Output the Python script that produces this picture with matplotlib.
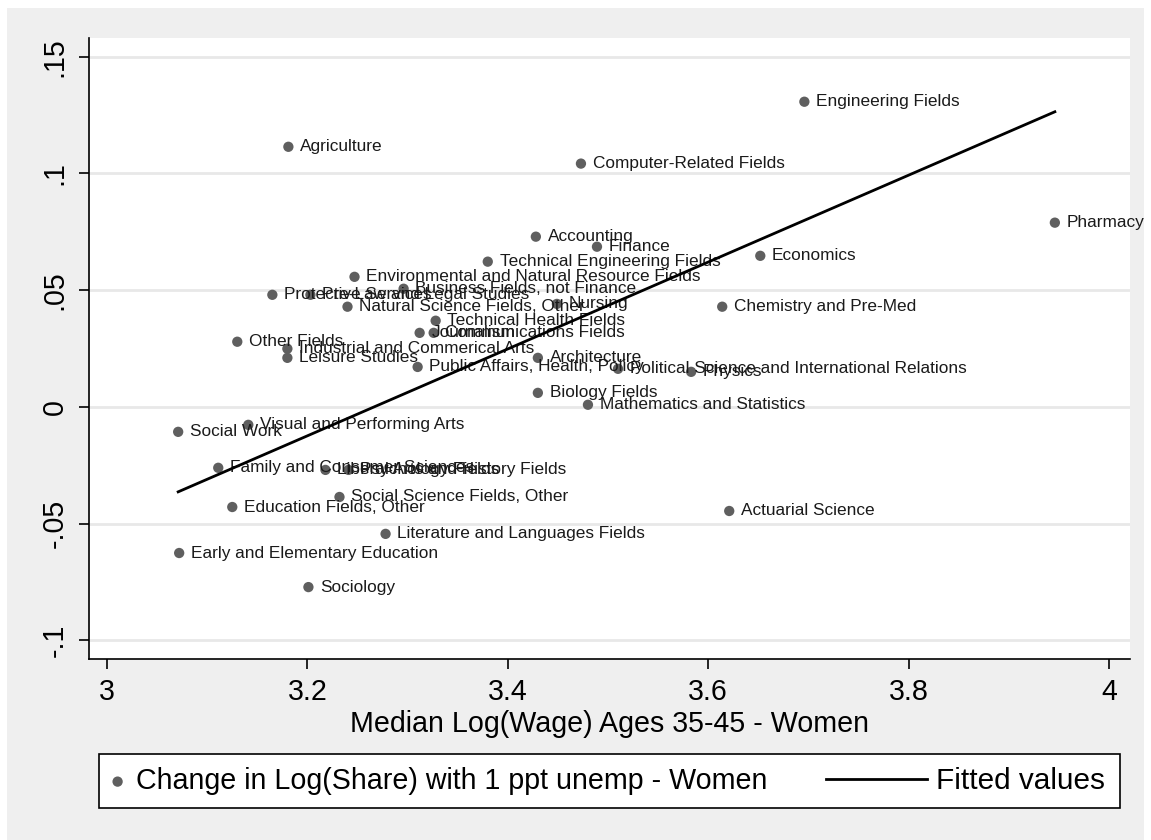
import matplotlib
matplotlib.use('Agg')
import matplotlib.pyplot as plt
import numpy as np
from matplotlib.patches import Rectangle
from matplotlib.lines import Line2D

# Настройки отображения
plt.rcParams['font.family'] = ['Liberation Sans', 'DejaVu Sans']
plt.rcParams['figure.dpi'] = 100

# Данные: специальности, медианный лог зарплаты (x), изменение лог доли (y)
majors = [
    'Engineering Fields', 'Agriculture', 'Computer-Related Fields', 'Pharmacy',
    'Accounting', 'Finance', 'Economics', 'Technical Engineering Fields',
    'Environmental and Natural Resource Fields', 'Business Fields, not Finance',
    'Protective Services', 'Pre-Law and Legal Studies', 'Natural Science Fields, Other',
    'Nursing', 'Chemistry and Pre-Med', 'Technical Health Fields', 'Journalism',
    'Communications Fields', 'Other Fields', 'Industrial and Commerical Arts',
    'Leisure Studies', 'Architecture', 'Public Affairs, Health, Policy',
    'Political Science and International Relations', 'Physics', 'Biology Fields',
    'Mathematics and Statistics', 'Social Work', 'Visual and Performing Arts',
    'Family and Consumer Sciences', 'Liberal Arts and History Fields', 'Psychology Fields',
    'Social Science Fields, Other', 'Education Fields, Other', 'Actuarial Science',
    'Literature and Languages Fields', 'Early and Elementary Education', 'Sociology',
]
log_wage = [
    3.696, 3.181, 3.473, 3.946,
    3.428, 3.489, 3.652, 3.380,
    3.247, 3.296,
    3.165, 3.203, 3.240,
    3.449, 3.614, 3.328, 3.312,
    3.326, 3.130, 3.180,
    3.180, 3.430, 3.310,
    3.510, 3.583, 3.430,
    3.480, 3.071, 3.141,
    3.111, 3.218, 3.241,
    3.232, 3.125, 3.621,
    3.278, 3.072, 3.201,
]
d_log_share = [
    0.1307, 0.1114, 0.1042, 0.0789,
    0.0729, 0.0686, 0.0647, 0.0622,
    0.0557, 0.0506,
    0.0480, 0.0480, 0.0429,
    0.0441, 0.0429, 0.0369, 0.0317,
    0.0317, 0.0279, 0.0249,
    0.0210, 0.0210, 0.0171,
    0.0163, 0.0150, 0.0060,
    0.0009, -0.0107, -0.0077,
    -0.0261, -0.0270, -0.0270,
    -0.0386, -0.0429, -0.0446,
    -0.0544, -0.0626, -0.0772,
]
# подобранные значения (линия тренда)
fit_x = [3.071, 3.946]
fit_y = [-0.0364, 0.1264]

x_ticks = [3, 3.2, 3.4, 3.6, 3.8, 4]
x_tick_labels = ['3', '3.2', '3.4', '3.6', '3.8', '4']
y_ticks = [-0.1, -0.05, 0, 0.05, 0.1, 0.15]
y_tick_labels = ['-.1', '-.05', '0', '.05', '.1', '.15']

FS = 20.6  # крупный шрифт осей и легенды

W, H = 1151, 840
fig = plt.figure(figsize=(W / 100, H / 100), facecolor='white')
# серый фон как в Stata
fig.patches.append(Rectangle((7 / W, 0), 1 - 14 / W, 1 - 8 / H, transform=fig.transFigure,
                             facecolor='#efefef', edgecolor='none', zorder=-10))
ax = fig.add_axes([89 / W, 1 - 659 / H, (1130 - 89) / W, (659 - 38) / H])
ax.set_facecolor('white')

sc = ax.scatter(log_wage, d_log_share, s=55, color='#5f5f5f', edgecolors='none', zorder=3)
for name, xi, yi in zip(majors, log_wage, d_log_share):
    ax.annotate(name, (xi, yi), xytext=(8.5, 0), textcoords='offset points',
                va='center', ha='left', fontsize=12.4, color='#1a1a1a', zorder=4)

ln, = ax.plot(fit_x, fit_y, color='black', lw=2, zorder=5)

ax.set_xlim(2.982, 4.021)
ax.set_ylim(-0.108, 0.158)
ax.set_xticks(x_ticks, x_tick_labels)
ax.set_yticks(y_ticks, y_tick_labels)
ax.grid(axis='y', color='#e8e8e8', lw=2)
ax.set_axisbelow(True)
for sp in ['top', 'right']:
    ax.spines[sp].set_visible(False)
for sp in ['left', 'bottom']:
    ax.spines[sp].set_linewidth(1.2)
ax.tick_params(axis='both', direction='out', length=7.5, width=1.2, labelsize=FS)
ax.tick_params(axis='x', pad=6)
ax.tick_params(axis='y', pad=7, labelrotation=90)
for t in ax.get_yticklabels():
    t.set_va('center')
ax.set_xlabel('Median Log(Wage) Ages 35-45 - Women', fontsize=FS, labelpad=3)

# легенда: рамка с точкой, справа линия
leg1 = fig.legend(handles=[sc], labels=['Change in Log(Share) with 1 ppt unemp - Women'],
                  loc='lower left', bbox_to_anchor=(99 / W, 1 - 808 / H, (1120 - 99) / W, 55 / H),
                  mode='expand', fontsize=FS, frameon=True, fancybox=False,
                  edgecolor='black', framealpha=1, borderpad=0.45, handlelength=0.4,
                  handletextpad=0.45, borderaxespad=0, scatterpoints=1)
leg1.get_frame().set_linewidth(1.2)
leg2 = fig.legend(handles=[Line2D([], [], color='black', lw=2)], labels=['Fitted values'],
                  loc='center right', bbox_to_anchor=(1117 / W, 1 - 781 / H),
                  fontsize=FS + 0.8, frameon=False, handlelength=3.4, handletextpad=0.3,
                  borderaxespad=0)

fig.savefig('out.png', dpi=100, facecolor=fig.get_facecolor())
